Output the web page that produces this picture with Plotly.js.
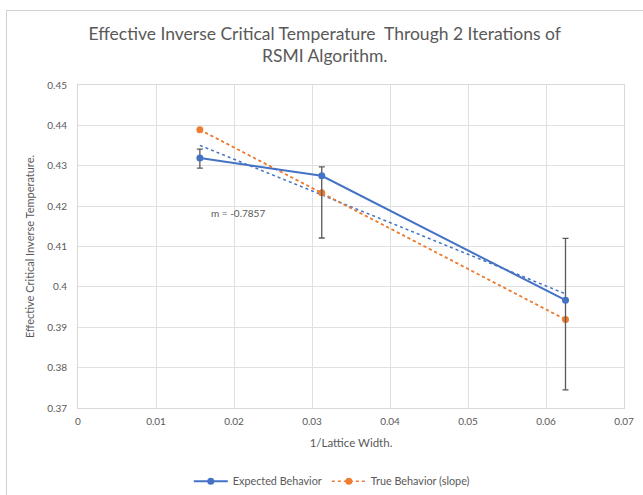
<!DOCTYPE html>
<html>
<head>
<meta charset="utf-8">
<script src="https://cdn.plot.ly/plotly-3.0.1.min.js"></script>
<style>
html,body{margin:0;padding:0;background:#fff;}
#chart{width:643px;height:495px;}
#frame{position:absolute;left:6px;top:10px;width:640px;height:490px;border:1px solid #d0d0d0;pointer-events:none;box-sizing:border-box;}
</style>
</head>
<body>
<div id="chart"></div>
<div id="frame"></div>
<script>
// Data
const xValues = [0.015625, 0.03125, 0.0625];           // 1/Lattice Width
const expected = [0.4319, 0.4275, 0.3967];              // Expected Behavior
const expectedErrPlus = [0.0022, 0.0022, 0.0153];
const expectedErrMinus = [0.0025, 0.0154, 0.0222];
const trueBehavior = [0.4389, 0.4233, 0.3919];          // True Behavior (slope)
const slopeLabel = "m = -0.7857";

function linFit(xs, ys) {
  const n = xs.length;
  const mx = xs.reduce((a, b) => a + b, 0) / n;
  const my = ys.reduce((a, b) => a + b, 0) / n;
  let sxy = 0, sxx = 0;
  for (let i = 0; i < n; i++) { sxy += (xs[i] - mx) * (ys[i] - my); sxx += (xs[i] - mx) ** 2; }
  const m = sxy / sxx, b = my - m * mx;
  const xr = [Math.min(...xs), Math.max(...xs)];
  return { x: xr, y: xr.map(v => m * v + b) };
}
const tExp = linFit(xValues, expected);
const tTrue = linFit(xValues, trueBehavior);

const BLUE = '#4472C4', ORANGE = '#ED7D31', GREY = '#595959';

const traces = [
  { x: tTrue.x, y: tTrue.y, mode: 'lines', line: { color: ORANGE, width: 1.5, dash: 'dot' }, showlegend: false, hoverinfo: 'skip' },
  { x: tExp.x, y: tExp.y, mode: 'lines', line: { color: BLUE, width: 1.5, dash: 'dot' }, showlegend: false, hoverinfo: 'skip' },
  { x: xValues, y: trueBehavior, name: 'True Behavior (slope)', mode: 'lines+markers',
    line: { color: ORANGE, width: 1.5, dash: 'dot' }, marker: { color: ORANGE, size: 7 } },
  { x: xValues, y: expected, name: 'Expected Behavior', mode: 'lines+markers',
    line: { color: BLUE, width: 2 }, marker: { color: BLUE, size: 7 },
    error_y: { type: 'data', symmetric: false, array: expectedErrPlus, arrayminus: expectedErrMinus,
               color: GREY, thickness: 1.3, width: 3 } }
];

const layout = {
  width: 643, height: 495,
  margin: { l: 78, r: 19, t: 85, b: 87, autoexpand: false },
  paper_bgcolor: '#fff', plot_bgcolor: '#fff',
  font: { family: 'Lato, "Open Sans", sans-serif', color: GREY },
  title: { text: 'Effective Inverse Critical Temperature  Through 2 Iterations of<br>RSMI Algorithm.',
           font: { size: 17.5, color: '#595959' }, x: 0.505, xanchor: 'center', y: 0.92, yanchor: 'top' },
  xaxis: { range: [0, 0.07], dtick: 0.01, tick0: 0, showgrid: true, gridcolor: '#e0e0e0', zeroline: false,
           showline: true, linecolor: '#d9d9d9', mirror: true, ticks: '', tickfont: { size: 10, color: GREY },
           ticklabelstandoff: 4, automargin: false,
           title: { text: '1/Lattice Width.', font: { size: 11.5, color: GREY }, standoff: 12 } },
  yaxis: { range: [0.37, 0.45], dtick: 0.01, tick0: 0.37, showgrid: true, gridcolor: '#e0e0e0', zeroline: false,
           showline: true, linecolor: '#d9d9d9', mirror: true, ticks: '', tickfont: { size: 10, color: GREY },
           ticklabelstandoff: 8, automargin: false,
           title: { text: 'Effective Critical Inverse Temperature.', font: { size: 11, color: GREY }, standoff: 10 } },
  legend: { orientation: 'h', x: 0.516, xanchor: 'center', xref: 'container', yref: 'container', y: 0.028, yanchor: 'middle',
            font: { size: 10.8, color: GREY }, traceorder: 'reversed', itemwidth: 34 },
  annotations: [
    { x: 0.0205, y: 0.4183, xref: 'x', yref: 'y', text: slopeLabel, showarrow: false,
      font: { size: 10, color: GREY } }
  ]
};

Plotly.newPlot('chart', traces, layout, { displayModeBar: false, staticPlot: true });
</script>
</body>
</html>
